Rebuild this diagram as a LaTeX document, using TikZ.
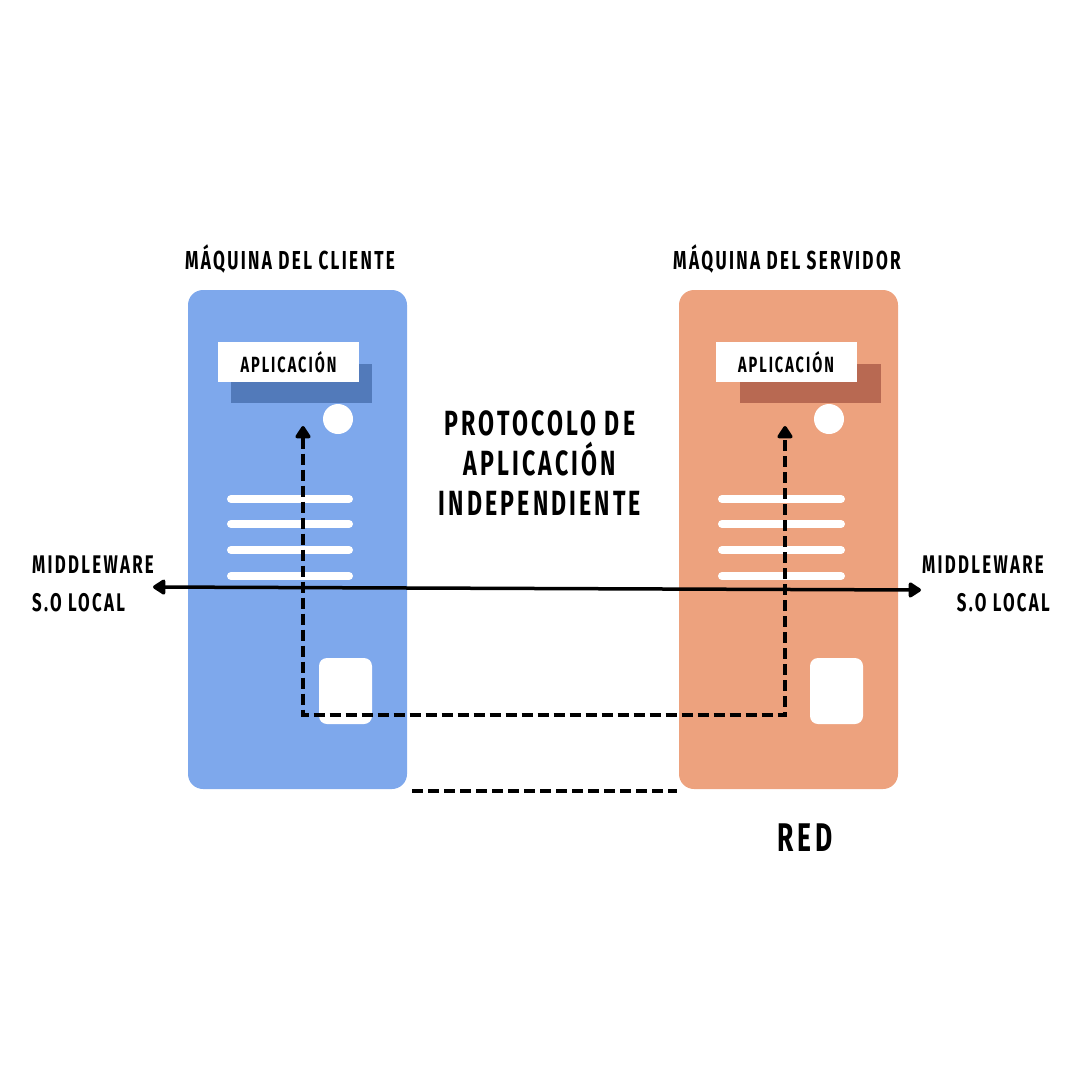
\documentclass[tikz,border=0pt]{standalone}
\usepackage{fontspec}
\usepackage{tikz}
\usetikzlibrary{positioning,arrows.meta}
\newfontfamily\bebas{Fira Sans}[UprightFont=* Bold,FakeStretch=0.66,LetterSpace=9]
\definecolor{clientblue}{RGB}{126,168,236}
\definecolor{clientdark}{RGB}{82,122,186}
\definecolor{serverorange}{RGB}{237,162,126}
\definecolor{serverdark}{RGB}{184,105,82}

\begin{document}
\begin{tikzpicture}[x=1pt,y=-1pt,
    machine/.style={rounded corners=15pt,minimum width=219pt,minimum height=499pt,inner sep=0pt},
    shadowbox/.style={minimum width=141pt,minimum height=39pt,inner sep=0pt},
    appbox/.style={fill=white,minimum width=141pt,minimum height=40pt,inner sep=0pt,font=\bebas\fontsize{22}{26}\selectfont},
    title/.style={inner sep=0pt,font=\bebas\fontsize{26}{30}\selectfont},
    side/.style={inner sep=0pt,font=\bebas\fontsize{25.5}{30}\selectfont},
    dashline/.style={line width=3.5pt,dash pattern=on 11pt off 5pt},
    headtip/.tip={Triangle[round,length=14pt,width=17pt]}]
        \useasboundingbox (0,0) rectangle (1080,1080);
        % client machine
        \node[machine,fill=clientblue] (client) at (297.5,539.5) {};
        \node[shadowbox,fill=clientdark] (cshadow) at (301.5,383.5) {};
        \node[appbox] (capp) at (288.5,362) {APLICACIÓN};
        \node[circle,fill=white,minimum size=30pt,inner sep=0pt] (cdot) at (338,419) {};
        \foreach \y in {499,524,550,576}
            \draw[white,line width=8pt,line cap=round] (231,\y) -- (349,\y);
        \node[fill=white,rounded corners=8pt,minimum width=53pt,minimum height=66pt,inner sep=0pt] (cport) at (345.5,691) {};
        \node[title] (ctitle) at (290,259) {MÁQUINA DEL CLIENTE};
        % server machine
        \node[machine,fill=serverorange] (server) at (788.5,539.5) {};
        \node[shadowbox,fill=serverdark] (sshadow) at (810.5,383.5) {};
        \node[appbox] (sapp) at (786,362) {APLICACIÓN};
        \node[circle,fill=white,minimum size=30pt,inner sep=0pt] (sdot) at (829,419) {};
        \foreach \y in {499,524,550,576}
            \draw[white,line width=8pt,line cap=round] (722,\y) -- (841,\y);
        \node[fill=white,rounded corners=8pt,minimum width=53pt,minimum height=66pt,inner sep=0pt] (sport) at (836.5,691) {};
        \node[title] (stitle) at (787,259) {MÁQUINA DEL SERVIDOR};
        % texts
        \node[align=center,inner sep=0pt,font=\bebas\fontsize{35}{40}\selectfont] (proto) at (540,463) {PROTOCOLO DE\\APLICACIÓN\\INDEPENDIENTE};
        \node[inner sep=0pt,font=\bebas\fontsize{40}{44}\selectfont] (red) at (805,838) {RED};
        \node[side,anchor=west] (mwl) at (32,565) {MIDDLEWARE};
        \node[side,anchor=west] (sol) at (32,603) {S.O LOCAL};
        \node[side,anchor=west] (mwr) at (922,565) {MIDDLEWARE};
        \node[side,anchor=east] (sor) at (1050,603) {S.O LOCAL};
        % connectors
        \coordinate (midl) at (153,587);
        \coordinate (midr) at (921,590);
        \coordinate (cin) at (303,426);
        \coordinate (sin) at (785,426);
        \coordinate (netl) at (412,791);
        \coordinate (netr) at (677,791);
        \draw[line width=3.5pt,headtip-headtip] (midl) -- (midr);
        \draw[dashline,headtip-headtip] (cin) -- (303,715) -- (785,715) -- (sin);
        \draw[dashline] (netl) -- (netr);
    \end{tikzpicture}
\end{document}
